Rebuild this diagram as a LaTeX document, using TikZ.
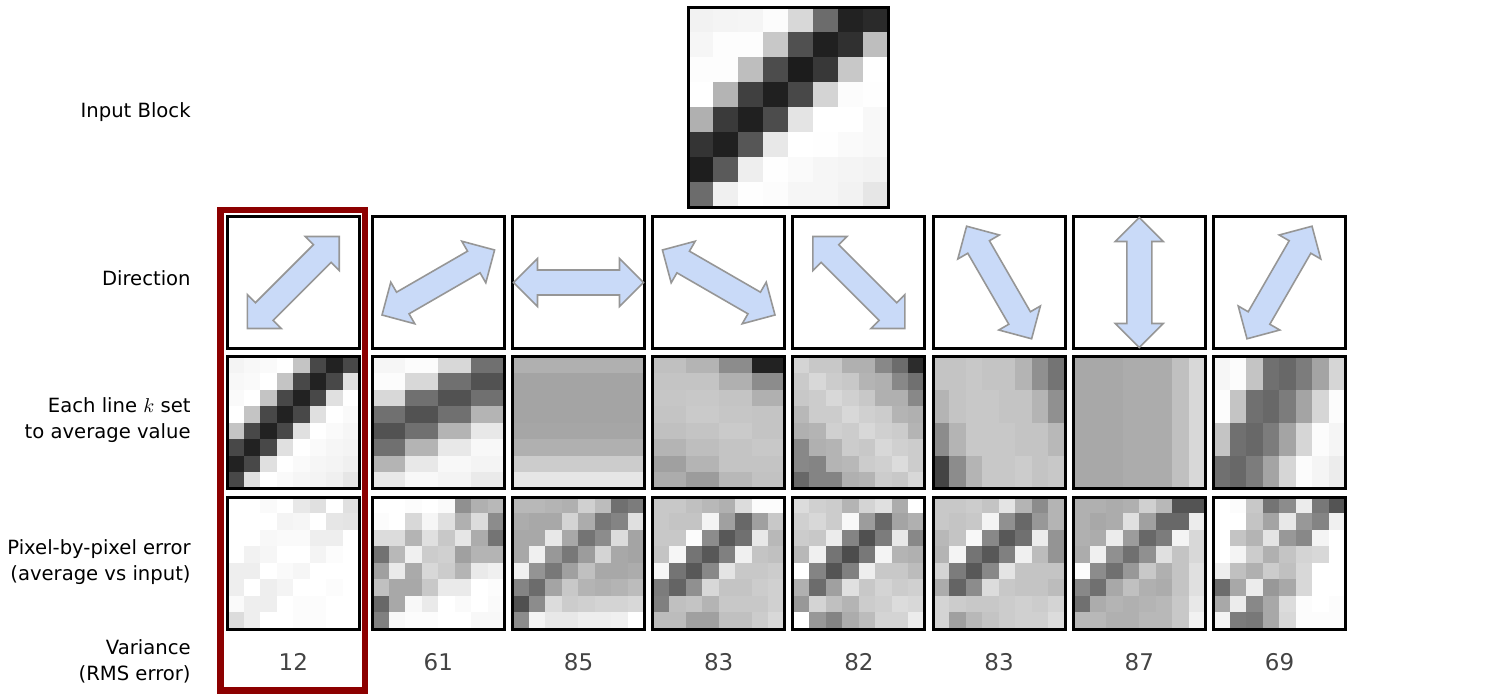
\documentclass[tikz,border=0pt]{standalone}
\usepackage{fontspec}
\setmainfont{DejaVu Sans}
\usepackage{tikz}
\usetikzlibrary{positioning}
\definecolor{framered}{RGB}{140,0,0}
\definecolor{arrowblue}{RGB}{201,218,248}
\definecolor{arrowgray}{RGB}{150,150,150}
\definecolor{scoregray}{RGB}{68,68,68}
\tikzstyle{rowlabel}=[anchor=east,align=right,font=\fontsize{9.8}{13}\selectfont,inner sep=0pt]
\tikzstyle{score}=[font=\fontsize{11.5}{14}\selectfont,text=scoregray,inner sep=0pt]
\tikzstyle{panel}=[draw=black,line width=1.5pt,minimum size=66pt,inner sep=0pt]
\tikzstyle{dirarrow}=[fill=arrowblue,draw=arrowgray,line width=0.8pt,line join=miter]

% 8x8 block of grey pixels: centre x, centre y, cell size, hex values
\newcommand{\pixgrid}[4]{%
  \foreach \pv [count=\n from 0] in {#4} {
    \pgfmathtruncatemacro{\pcol}{mod(\n,8)}
    \pgfmathtruncatemacro{\prow}{div(\n,8)}
    \edef\setpix{\noexpand\definecolor{pix}{HTML}{\pv\pv\pv}}\setpix
    \fill[pix,draw=pix,line width=0.2pt] ({#1+(\pcol-4)*#3},{#2+(4-\prow)*#3}) rectangle ++(#3,-#3);
  }}

% double headed block arrow: centre x, centre y, angle
\newcommand{\dirsign}[3]{%
  \draw[dirarrow,shift={(#1,#2)},rotate=#3] (-65,0) -- (-41,24) -- (-41,12.5) -- (41,12.5)
    -- (41,24) -- (65,0) -- (41,-24) -- (41,-12.5) -- (-41,-12.5) -- (-41,-24) -- cycle;}

\begin{document}
\begin{tikzpicture}[x=0.5pt,y=0.5pt]
\useasboundingbox (0,0) rectangle (1500,-700);

% input block
\pixgrid{788.3}{-107.3}{25}{F2,F4,F5,FC,D8,6C,22,2A,
F6,FD,FD,C8,50,20,30,BE,
FD,FD,BE,4C,1C,38,C8,FF,
FF,B4,40,20,48,D4,FC,FE,
B0,3A,20,4C,E4,FF,FF,F8,
34,20,56,E8,FF,FE,FA,F8,
1E,5A,EE,FE,FA,F6,F4,F2,
6C,F0,FE,FC,F6,F6,F2,E6}
\node[draw=black,line width=1.25pt,minimum size=100pt,inner sep=0pt] (input) at (788.3,-107.3) {};

% averages
\pixgrid{293.3}{-422.8}{16.5}{F4,F8,FA,FF,C4,48,22,48,
F8,FA,FF,C4,48,22,48,E0,
FA,FF,C4,48,22,48,E0,FF,
FF,C4,48,22,48,E0,FF,FA,
C4,48,22,48,E0,FF,FA,F6,
48,22,48,E0,FF,FA,F6,F4,
22,48,E0,FF,FA,F6,F4,F0,
48,E0,FF,FA,F6,F4,F0,E6}
\pixgrid{438.3}{-422.8}{16.5}{F6,F6,FC,FC,D8,D8,70,70,
FC,FC,D8,D8,70,70,52,52,
D8,D8,70,70,52,52,70,70,
70,70,52,52,70,70,B4,B4,
52,52,70,70,B4,B4,E8,E8,
70,70,B4,B4,E8,E8,F8,F8,
B4,B4,E8,E8,F8,F8,F4,F4,
E8,E8,F8,F8,F4,F4,EA,EA}
\pixgrid{578.5}{-422.8}{16.5}{B0,B0,B0,B0,B0,B0,B0,B0,
A4,A4,A4,A4,A4,A4,A4,A4,
A4,A4,A4,A4,A4,A4,A4,A4,
A4,A4,A4,A4,A4,A4,A4,A4,
A6,A6,A6,A6,A6,A6,A6,A6,
B0,B0,B0,B0,B0,B0,B0,B0,
CC,CC,CC,CC,CC,CC,CC,CC,
E6,E6,E6,E6,E6,E6,E6,E6}
\pixgrid{718.7}{-422.8}{16.5}{C0,C0,B4,B4,8C,8C,22,22,
C4,C4,C4,C4,B0,B0,8C,8C,
C6,C6,C8,C8,C4,C4,B0,B0,
C4,C4,CA,CA,C6,C6,C4,C4,
C0,C0,C4,C4,CA,CA,C4,C4,
B4,B4,BE,BE,C4,C4,C8,C8,
A0,A0,B4,B4,C4,C4,C4,C4,
AC,AC,9C,9C,B8,B8,C2,C2}
\pixgrid{858.9}{-422.8}{16.5}{D4,C8,C8,B0,B0,88,6C,2C,
CA,D8,CC,C8,B4,B0,88,70,
C8,CC,D8,D0,C8,B0,B0,88,
B8,CC,CC,D8,D0,CC,B4,B0,
B0,B4,D0,CC,D8,D0,CC,B4,
88,B0,B4,CC,C8,D8,D0,CC,
88,84,B4,B8,CC,D0,DC,CC,
68,84,84,B0,B4,CC,C8,D8}
\pixgrid{999.1}{-422.8}{16.5}{C4,C4,C8,C4,C4,B4,90,74,
C4,C4,C8,C4,C4,B4,90,74,
B4,C4,C8,C8,C4,C4,B4,90,
B4,C4,C8,C8,C4,C4,B4,90,
8C,B4,C8,C8,C8,C4,C4,B8,
8C,B4,C8,C8,C8,C4,C4,B8,
44,8C,B4,C8,C8,CC,C4,C8,
44,8C,B4,C8,C8,CC,C4,C8}
\pixgrid{1139.3}{-422.8}{16.5}{A8,A8,A8,AC,AC,AC,C0,D8,
A8,A8,A8,AC,AC,AC,C0,D8,
A8,A8,A8,AC,AC,AC,C0,D8,
A8,A8,A8,AC,AC,AC,C0,D8,
A8,A8,A8,AC,AC,AC,C0,D8,
A8,A8,A8,AC,AC,AC,C0,D8,
A8,A8,A8,AC,AC,AC,C0,D8,
A8,A8,A8,AC,AC,AC,C0,D8}
\pixgrid{1279.5}{-422.8}{16.5}{F6,FC,C4,70,68,7C,A4,D6,
F6,FC,C4,70,68,7C,A4,D6,
FC,C4,70,68,7C,A4,D6,FC,
FC,C4,70,68,7C,A4,D6,FC,
C4,70,68,7C,A4,D6,FC,F5,
C4,70,68,7C,A4,D6,FC,F5,
70,68,7C,A4,D6,FC,F5,EC,
70,68,7C,A4,D6,FC,F5,EC}

% errors
\pixgrid{293.3}{-563.1}{16.5}{FF,FF,FA,FF,E8,E0,FF,E0,
FF,FF,FF,F4,F6,FF,E6,E4,
FF,FF,F8,FA,FA,EE,EE,FF,
FF,F2,F6,FF,FF,F4,FC,FF,
EE,EE,FF,FA,F6,FF,FF,FF,
EE,FF,EE,F4,FF,FF,FC,FF,
FA,EE,EE,FF,FC,FC,FF,FF,
DC,EE,FF,FF,FC,FC,FF,FF}
\pixgrid{438.3}{-563.1}{16.5}{FF,FF,FC,FF,FA,90,B0,B8,
FC,FF,D8,F6,E0,B0,DC,8C,
DC,DC,B4,E0,C8,E6,AC,74,
72,B8,F0,CC,D0,A0,B4,B4,
A0,EA,AA,D8,CC,B4,EA,F0,
C0,A8,A8,C8,EA,EA,FF,FC,
68,A8,F8,EA,FF,FA,FF,FA,
80,F8,FC,FC,FF,FF,F8,F8}
\pixgrid{578.5}{-563.1}{16.5}{B8,B8,B4,B0,D0,BC,70,7C,
AC,A8,A8,D4,AC,78,84,E0,
A8,A8,E8,A8,74,8C,DC,A4,
A8,F0,98,78,9C,D4,A8,A4,
F0,94,78,A0,C0,A8,A8,AC,
84,6C,A4,C8,B4,B0,B4,BC,
50,8C,DC,CC,D0,D4,D4,D8,
8C,F4,E8,E8,EE,EE,F0,FF}
\pixgrid{718.7}{-563.1}{16.5}{C8,C8,C0,B8,B0,DC,FC,FC,
C8,C4,C4,F4,A0,68,A0,C8,
C8,C8,FC,8C,58,70,E8,B8,
C4,F6,74,58,80,F0,C4,C0,
F6,74,58,88,E4,C8,C8,CC,
7C,64,90,D8,C4,C4,CC,D0,
80,C0,C4,B4,C8,C8,C8,D0,
BC,BC,A0,A0,C0,C0,CC,D8}
\pixgrid{858.9}{-563.1}{16.5}{DC,D0,CC,B4,D4,E0,AC,FF,
D0,D8,CC,F8,9C,68,A4,B0,
CC,C8,EC,84,50,7C,E8,88,
B8,F0,74,4C,78,F4,B4,B0,
FF,84,54,80,EE,C8,C8,BC,
B0,6C,A0,E0,C8,D4,CC,D0,
98,D4,C0,B4,CC,D0,DC,D8,
FF,98,84,AC,BC,D4,D4,EC}
\pixgrid{999.1}{-563.1}{16.5}{C8,C8,CC,C4,E4,B4,8C,B4,
C8,C4,C8,F4,90,68,98,B4,
B8,C4,F8,88,58,70,EC,94,
B4,F4,74,58,80,F0,BC,94,
D4,7C,58,88,E4,C4,C4,C4,
AC,64,8C,DC,C8,C4,C4,BC,
D4,CC,C8,C8,CC,D0,CC,D4,
D4,A0,B8,C4,CC,D0,D0,DC}
\pixgrid{1139.3}{-563.1}{16.5}{B0,B0,AC,B0,D0,B8,54,54,
B0,A8,AC,E0,A0,68,68,EC,
B0,AC,EC,9C,68,7C,F4,D8,
AC,F0,90,70,90,E0,C4,D8,
FC,8C,70,98,C8,B0,C4,E0,
88,70,A8,C0,B0,AC,C4,E0,
70,AC,B4,B0,B4,B8,C8,E8,
B8,B8,B0,B0,B8,B8,C8,F2}
\pixgrid{1279.5}{-563.1}{16.5}{FF,FC,C8,74,8C,EC,78,54,
FF,FF,C4,A4,E8,98,84,F0,
FF,C4,B4,E4,98,88,F4,FF,
FF,F4,CC,B0,C4,D4,D8,FF,
EE,C0,B0,CC,C0,D8,FF,FF,
6C,A8,EC,98,A8,D8,FF,FF,
A8,EC,88,A8,DC,FC,FF,FC,
F4,7C,78,A8,D8,FC,FC,FC}

% frames, arrows and scores
\foreach \i/\cx/\ang/\rms in {1/293.3/45/12,2/438.3/30/61,3/578.5/0/85,4/718.7/-30/83,
  5/858.9/-45/82,6/999.1/-60/83,7/1139.3/90/87,8/1279.5/60/69} {
  \node[panel] (dir\i) at (\cx,-282.5) {};
  \node[panel] (avg\i) at (\cx,-422.8) {};
  \node[panel] (err\i) at (\cx,-563.1) {};
  \dirsign{\cx}{-282.5}{\ang}
  \node[score] (rms\i) at (\cx,-662) {\rms};
}

% best direction
\draw[framered,line width=3.25pt] (220.5,-210) rectangle (365,-690.5);

% row labels
\node[rowlabel] (lblinput) at (191,-112) {Input Block};
\node[rowlabel] (lbldir) at (191,-278) {Direction};
\node[rowlabel] (lblavg) at (191,-420.5) {Each line $k$ set\\to average value};
\node[rowlabel] (lblerr) at (191,-562) {Pixel-by-pixel error\\(average vs input)};
\node[rowlabel] (lblrms) at (191,-661) {Variance\\(RMS error)};
\end{tikzpicture}
\end{document}
